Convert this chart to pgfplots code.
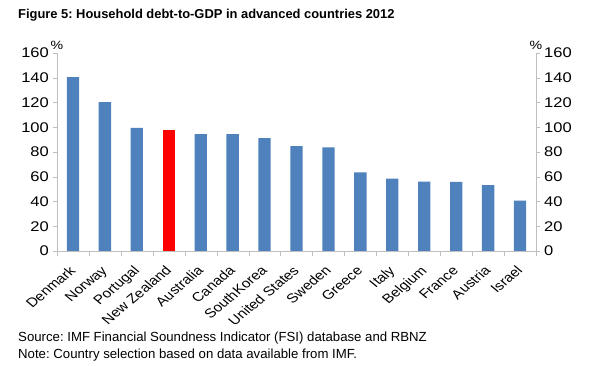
\documentclass[border=0pt]{standalone}
\usepackage{pgfplots}
\pgfplotsset{compat=1.18}
\usepackage{fontspec}
\setmainfont{Liberation Sans}
\frenchspacing
\definecolor{barblue}{HTML}{4F81BD}
\definecolor{axgray}{HTML}{BFBFBF}
\begin{document}
\begin{tikzpicture}[x=1pt,y=1pt]
\path[use as bounding box] (0,0) rectangle (595,366);
\node[anchor=west,inner sep=0pt,font=\fontsize{12.9}{15}\selectfont\bfseries] at (18,351) {Figure 5: Household debt-to-GDP in advanced countries 2012};
\begin{axis}[
  at={(57pt,115pt)}, anchor=south west,
  scale only axis, width=479pt, height=198pt,
  xmin=-0.5, xmax=14.5, ymin=0, ymax=160,
  ytick={0,20,...,160},
  xtick={0,...,14},
  xticklabels={Denmark,Norway,Portugal,New Zealand,Australia,Canada,SouthKorea,United States,Sweden,Greece,Italy,Belgium,France,Austria,Israel},
  x tick label style={xshift=-4.5pt, yshift=-10pt, cm={0.849,0.707,-0.849,0.707,(0,0)}, anchor=north east, font=\fontsize{12.8}{14}\selectfont, inner sep=0pt},
  y tick label style={font=\fontsize{14}{16}\selectfont, xscale=1.18},
  /pgf/number format/assume math mode=true,
  minor xtick={-0.5,0.5,...,14.5},
  major x tick style={draw=none},
  minor x tick style={axgray},
  axis x line*=bottom,
  axis y line*=left,
  axis line style={axgray},
  ytick style={axgray},
  tick align=outside,
  major tick length=4pt, minor tick length=5pt,
  clip=false,
]
\addplot[ybar, bar width=12.3pt, fill=barblue, draw=none] coordinates {
(0,140.6) (1,120.2) (2,99.4) (4,94.5) (5,94.5) (6,91.3) (7,84.8) (8,83.8) (9,63.6) (10,58.4) (11,56.0) (12,55.8) (13,53.3) (14,40.7)};
\addplot[ybar, bar width=12.3pt, fill=red, draw=none] coordinates {(3,97.8)};
\node[font=\fontsize{12}{14}\selectfont, xscale=1.18, anchor=south] at (rel axis cs:0,1) {\%};
\end{axis}
\begin{axis}[
  at={(57pt,115pt)}, anchor=south west,
  scale only axis, width=479pt, height=198pt,
  xmin=-0.5, xmax=14.5, ymin=0, ymax=160,
  ytick={0,20,...,160},
  xtick=\empty,
  axis x line=none,
  axis y line*=right,
  axis line style={axgray},
  ytick style={axgray},
  tick align=outside,
  major tick length=4pt,
  y tick label style={font=\fontsize{14}{16}\selectfont, xscale=1.18},
  /pgf/number format/assume math mode=true,
  clip=false,
]
\addplot[draw=none] coordinates {(0,0)};
\node[font=\fontsize{12}{14}\selectfont, xscale=1.18, anchor=south] at (rel axis cs:1,1) {\%};
\end{axis}
\node[anchor=west,inner sep=0pt,font=\fontsize{13.2}{15}\selectfont] at (18,28) {Source: IMF Financial Soundness Indicator (FSI) database and RBNZ};
\node[anchor=west,inner sep=0pt,font=\fontsize{13.2}{15}\selectfont] at (18,11) {Note: Country selection based on data available from IMF.};
\end{tikzpicture}
\end{document}
